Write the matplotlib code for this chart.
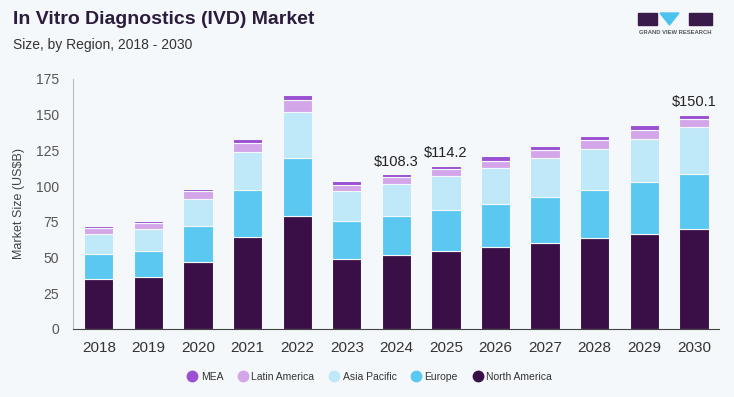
import matplotlib
matplotlib.use("Agg")
import matplotlib.pyplot as plt
from matplotlib.patches import Rectangle, Polygon
from matplotlib.lines import Line2D
import numpy as np

plt.rcParams['font.family'] = ['Liberation Sans', 'DejaVu Sans']

years = ['2018', '2019', '2020', '2021', '2022', '2023', '2024', '2025', '2026', '2027', '2028', '2029', '2030']
north_america = [34.7, 36.1, 47.0, 64.0, 78.7, 49.1, 51.5, 54.3, 57.0, 60.3, 63.3, 66.3, 69.8]
europe        = [17.7, 18.6, 24.9, 33.5, 40.9, 26.3, 27.6, 28.8, 30.5, 32.1, 34.2, 36.6, 38.7]
asia_pacific  = [13.9, 15.3, 19.1, 26.1, 32.6, 21.0, 22.2, 23.7, 24.9, 27.0, 28.2, 30.3, 32.6]
latin_america = [4.0, 3.8, 5.2, 6.5, 8.2, 4.6, 5.1, 5.4, 5.4, 5.6, 6.3, 6.2, 5.8]
mea           = [1.6, 1.6, 1.8, 2.8, 3.7, 2.6, 1.9, 2.0, 3.0, 2.8, 2.8, 3.1, 3.2]
labels = {'2024': '$108.3', '2025': '$114.2', '2030': '$150.1'}
yticks = [0, 25, 50, 75, 100, 125, 150, 175]

series = [
    ('North America', north_america, '#3a0f47'),
    ('Europe', europe, '#5bc8f1'),
    ('Asia Pacific', asia_pacific, '#bfe8f8'),
    ('Latin America', latin_america, '#d3a6ea'),
    ('MEA', mea, '#9b4fd2'),
]

bg = '#f5f8fb'
fig = plt.figure(figsize=(7.34, 3.97), dpi=100, facecolor=bg)
ax = fig.add_axes([73/734, 1-328.7/397, (718.7-73)/734, (328.7-79)/397])
ax.set_facecolor(bg)

x = np.arange(len(years))
bottom = np.zeros(len(years))
colors = {}
for name, vals, col in series:
    ax.bar(x, vals, width=0.59, bottom=bottom, color=col, edgecolor=bg, linewidth=0.8, label=name)
    colors[name] = col
    bottom += np.array(vals)

for i, yr in enumerate(years):
    if yr in labels:
        ax.annotate(labels[yr], (x[i], bottom[i]), xytext=(0, 4), textcoords='offset points',
                    ha='center', va='bottom', fontsize=10.5, color='#222222')

ax.set_xlim(-0.52, len(years) - 0.5)
ax.set_ylim(0, 175)
ax.set_yticks(yticks)
ax.set_xticks(x)
ax.set_xticklabels(years)
ax.tick_params(axis='y', length=0, pad=10, labelsize=10, labelcolor='#555555')
ax.tick_params(axis='x', length=0, pad=9, labelsize=11, labelcolor='#333333')
for s in ['top', 'right']:
    ax.spines[s].set_visible(False)
ax.spines['left'].set_color('#bbbbbb')
ax.spines['bottom'].set_color('#444444')
ax.set_ylabel('Market Size (US$B)', fontsize=9, color='#444444', labelpad=8)

fig.text(13/734, 1-20/397, 'In Vitro Diagnostics (IVD) Market', fontsize=14, fontweight='bold',
         color='#2b1b3d', va='center', ha='left')
fig.text(13/734, 1-45/397, 'Size, by Region, 2018 - 2030', fontsize=10, color='#333333', va='center', ha='left')

# logo
def fx(px): return px/734
def fy(py): return 1-py/397
fig.patches.append(Rectangle((fx(638), fy(25)), fx(657)-fx(638), fy(13)-fy(25), transform=fig.transFigure, color='#3a1a4a'))
fig.patches.append(Polygon([(fx(660), fy(13)), (fx(679), fy(13)), (fx(669.5), fy(25))], closed=True, transform=fig.transFigure, color='#4cc3ee'))
fig.patches.append(Rectangle((fx(689), fy(25)), fx(712)-fx(689), fy(13)-fy(25), transform=fig.transFigure, color='#3a1a4a'))
fig.text(fx(675), fy(32.5), 'GRAND VIEW RESEARCH', fontsize=4.2, fontweight='bold', color='#555555', ha='center', va='center')

# legend
order = ['MEA', 'Latin America', 'Asia Pacific', 'Europe', 'North America']
leg_handles = [Line2D([], [], marker='o', linestyle='none', markersize=7.5, markerfacecolor=colors[n],
                      markeredgecolor=colors[n]) for n in order]
fig.legend(leg_handles, order, loc='center', bbox_to_anchor=(369/734, 1-377/397), ncol=5, frameon=False,
           fontsize=7.5, handletextpad=0.2, columnspacing=1.3, handlelength=1.2, labelcolor='#333333')

fig.savefig('out.png', dpi=100, facecolor=bg)
